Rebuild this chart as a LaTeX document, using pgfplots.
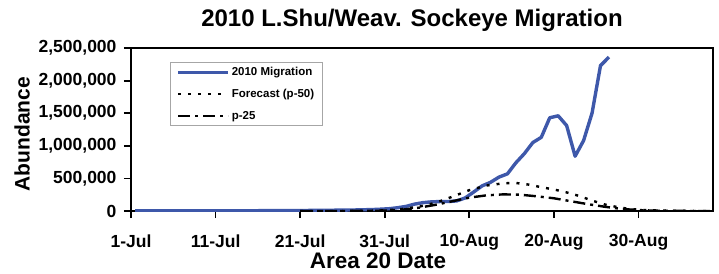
\documentclass[border=0pt]{standalone}
\usepackage{fontspec}
\setmainfont{Liberation Sans}
\usepackage{pgfplots}
\pgfplotsset{compat=1.18}
\definecolor{migblue}{RGB}{62,88,170}
\begin{document}
\begin{tikzpicture}
\begin{axis}[
  at={(0pt,0pt)}, anchor=south west,
  scale only axis, width=582pt, height=163pt,
  xmin=0, xmax=68.8, ymin=0, ymax=2500000,
  axis line style={line width=2.2pt},
  xtick={0,10,...,60},
  xticklabels={1-Jul,11-Jul,21-Jul,31-Jul,10-Aug,20-Aug,30-Aug},
  ytick={0,500000,...,2500000},
  scaled y ticks=false,
  yticklabel style={xshift=-4pt, /pgf/number format/fixed, /pgf/number format/1000 sep={,}},
  xticklabel style={yshift=-13pt},
  /pgf/number format/assume math mode=true,
  tick label style={font=\fontsize{17.5}{17.5}\selectfont\bfseries},
  xtick pos=left, ytick pos=left,
  tick align=outside, major tick length=7pt,
  tick style={line width=1.8pt, black},
  legend style={at={(axis description cs:0.067,0.914)}, anchor=north west,
    draw=gray!70, line width=0.8pt, font=\fontsize{11.5}{11.5}\selectfont\bfseries,
    row sep=8pt, inner xsep=6pt, inner ysep=3pt, cells={anchor=west}},
  legend image code/.code={\draw[#1] (0pt,0pt) -- (50pt,0pt);},
]
\addplot[migblue, line width=3.4pt, line join=round] coordinates {
(0.5,1000)(2.5,1500)(4.5,2000)(6.5,2500)(8.5,3000)(10.5,3500)(12.5,4000)(14.5,4500)(16.5,5000)(18.5,6000)(20.5,8000)(22.5,10000)(24.5,13000)(26.5,16000)(28.5,22000)(29.5,28000)(30.5,35000)(31.5,50000)(32.5,70000)(33.5,105000)(34.5,128000)(35.5,140000)(36.5,145000)(37.5,145000)(38.5,155000)(39.5,200000)(40.5,290000)(41.5,385000)(42.5,440000)(43.5,520000)(44.5,570000)(45.5,740000)(46.5,880000)(47.5,1050000)(48.5,1130000)(49.5,1430000)(50.5,1460000)(51.5,1310000)(52.5,840000)(53.5,1080000)(54.5,1500000)(55.5,2230000)(56.5,2360000)
};
\addlegendentry{2010 Migration}
\addplot[black, line width=2.4pt, dash pattern=on 3pt off 7pt] coordinates {
(20,0)(25,0)(28,3000)(30,10000)(32,30000)(34,65000)(36,125000)(38,220000)(40,320000)(42,390000)(44,425000)(45.5,430000)(47,405000)(48.5,365000)(50,330000)(51.5,285000)(53,230000)(54.5,160000)(56,100000)(57.5,60000)(59,30000)(61,12000)(63,5000)(66,1000)(68.8,0)
};
\addlegendentry{Forecast (p-50)}
\addplot[black, line width=2.4pt, dash pattern=on 12pt off 5pt on 3pt off 5pt] coordinates {
(20,0)(25,0)(28,2000)(30,6000)(32,20000)(34,50000)(36,95000)(38,150000)(40,205000)(42,240000)(44,255000)(46,250000)(48,225000)(50,195000)(52,150000)(54,105000)(56,65000)(58,32000)(60,14000)(62,5000)(65,1000)(68.8,0)
};
\addlegendentry{p-25}
\end{axis}
\node[font=\fontsize{24}{24}\selectfont\bfseries] at (281pt,191pt) {2010 L.Shu/Weav. Sockeye Migration};
\node[font=\fontsize{21}{21}\selectfont\bfseries, rotate=90] at (-109pt,77pt) {Abundance};
\node[font=\fontsize{22.5}{22.5}\selectfont\bfseries] at (247pt,-50pt) {Area 20 Date};
\pgfresetboundingbox
\path (-131pt,-62pt) rectangle (588pt,211pt);
\end{tikzpicture}
\end{document}
